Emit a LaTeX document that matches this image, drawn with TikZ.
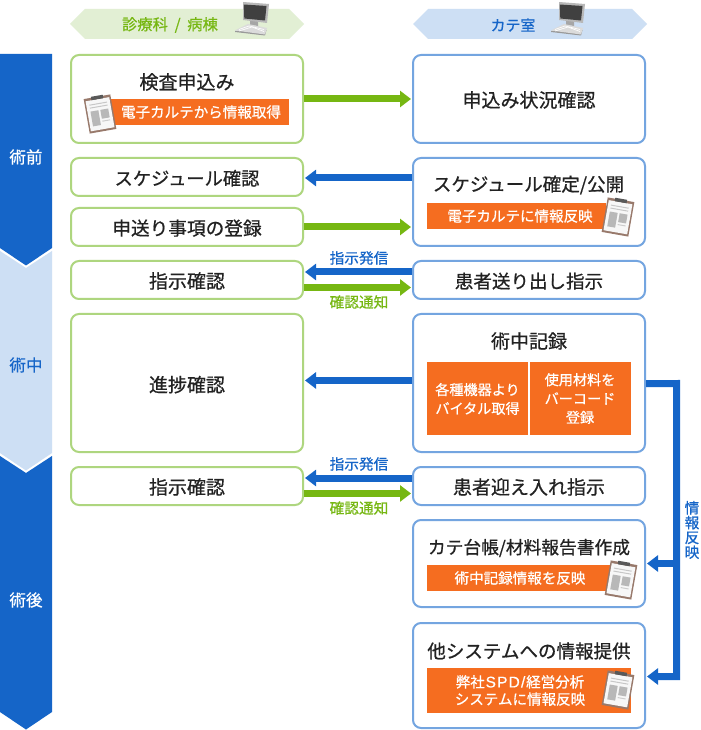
\documentclass[tikz,border=0pt]{standalone}
\usepackage{fontspec}
\usetikzlibrary{arrows.meta,calc}
\setmainfont{Noto Sans CJK JP}
\newfontfamily\jpm{Noto Sans CJK JP}[FakeBold=0.7]
\newfontfamily\lat{Liberation Sans}[FakeBold=0.5]
\definecolor{dblue}{HTML}{1565C8}
\definecolor{lblue}{HTML}{CDDFF4}
\definecolor{dgreen}{HTML}{76B712}
\definecolor{lgreen}{HTML}{E2EFD4}
\definecolor{gborder}{HTML}{AED67F}
\definecolor{bborder}{HTML}{74A5E0}
\definecolor{orangebar}{HTML}{F56D20}
\definecolor{inktext}{HTML}{222222}
\definecolor{clipbrown}{HTML}{98796B}
\newcommand{\fsz}[1]{\fontsize{#1}{#1}\selectfont}
\newcommand{\clipb}[3]{%
  \begin{scope}[shift={(#1,#2)},rotate=#3]
    \fill[clipbrown] (-13.5,-17.5) rectangle (13.5,17.5);
    \fill[black!3] (-12,-15) rectangle (12,15.5);
    \fill[black!65] (-6,-18.5) rectangle (6,-15);
    \fill[black!22] (-9,-11) rectangle (9,-10);
    \fill[black!22] (-9,-8) rectangle (9,-7);
    \fill[black!28] (-9,-4) rectangle (-1,11);
    \fill[black!28] (1,-4) rectangle (9,5);
    \fill[black!20] (1,7) rectangle (9,8);
  \end{scope}}
\newcommand{\pcicon}[1]{%
  \begin{scope}[xshift=#1*0.75pt]
    \fill[black!35] (250,20) -- (258,21) -- (258,26) -- (250,25) -- cycle;
    \fill[black!28] (243,2) -- (269,4) -- (267,23) -- (243,20) -- cycle;
    \fill[black!75] (243.8,4.5) -- (266.5,6) -- (265,20.5) -- (244.3,18.5) -- cycle;
    \fill[black!40] (235,31) -- (235,32) -- (265,35.5) -- (266.5,30) -- cycle;
    \fill[black!14] (235,30.5) -- (248,24) -- (267,28) -- (265,34.5) -- cycle;
    \draw[white,line width=.5pt] (239,29.5) -- (249,26) -- (264,29.5);
    \draw[white,line width=.5pt] (239,31) -- (252,27) -- (264,31.5);
  \end{scope}}
\tikzset{
  x=0.75pt,y=-0.75pt,
  basebox/.style={draw,fill=white,line width=1.5pt,rounded corners=6pt,minimum width=174pt,inner sep=0pt,outer sep=0pt,text=inktext,font=\jpm\fsz{14.25pt},text height=14pt,text depth=1.7pt},
  lbox/.style={basebox,draw=gborder},
  rbox/.style={basebox,draw=bborder},
  h38/.style={minimum height=28.5pt},
  title/.style={inner sep=0pt,text=inktext,font=\jpm\fsz{14.25pt}},
  bartext/.style={inner sep=0pt,text=white,align=center,font=\jpm\fsz{10.9pt}},
  phase/.style={inner sep=0pt,font=\jpm\fsz{12.4pt}},
  arr/.style={line width=5.25pt,-{Triangle[length=8.25pt,width=12pt]},shorten <=.75pt,shorten >=1.5pt},
  garrow/.style={arr,draw=dgreen},
  barrow/.style={arr,draw=dblue},
  small/.style={inner sep=0pt,font=\jpm\fsz{11pt}},
}
\begin{document}
\begin{tikzpicture}
\path[use as bounding box,fill=white] (0,0) rectangle (700,730);
% phases
\fill[dblue] (0,54) -- (52,54) -- (52,248) -- (26,265.5) -- (0,248) -- cycle;
\fill[lblue] (0,251) -- (26,268) -- (52,251) -- (52,453) -- (26,470.5) -- (0,453) -- cycle;
\fill[dblue] (0,456) -- (26,473) -- (52,456) -- (52,712) -- (26,729.5) -- (0,712) -- cycle;
\node[phase,text=white] (pre) at (26,157) {術前};
\node[phase,text=dblue] (mid) at (26,365) {術中};
\node[phase,text=white] (post) at (26,600) {術後};
% headers
\fill[lgreen] (70,24) -- (85,9) -- (289,9) -- (304,24) -- (289,39) -- (85,39) -- cycle;
\fill[lblue] (413,24) -- (428,9) -- (632,9) -- (647,24) -- (632,39) -- (428,39) -- cycle;
\node[inner sep=0pt,text=dgreen,font=\jpm\fsz{11.5pt}] (hl) at (170,25) {診療科\hspace{5pt}/\hspace{5pt}病棟};
\node[inner sep=0pt,text=dblue,font=\jpm\fsz{11.2pt}] (hr) at (513,25) {カテ室};
\pcicon{0}
\pcicon{316}
% left boxes
\node[lbox,minimum height=66pt] (l1) at (187,99) {};
\node[lbox,h38,font=\jpm\fsz{13.7pt}] (l2) at (187,177) {スケジュール確認};
\node[lbox,h38,font=\jpm\fsz{14pt}] (l3) at (187,227) {申送り事項の登録};
\node[lbox,h38] (l4) at (187,280) {指示確認};
\node[lbox,minimum height=103.5pt,text height=15pt] (l5) at (187,383) {進捗確認};
\node[lbox,h38] (l6) at (187,486) {指示確認};
% right boxes
\node[rbox,minimum height=66pt] (r1) at (529,99) {申込み状況確認};
\node[rbox,minimum height=66pt] (r2) at (529,202) {};
\node[rbox,h38,font=\jpm\fsz{13.9pt}] (r3) at (529,280) {患者送り出し指示};
\node[rbox,minimum height=103.5pt] (r4) at (529,383) {};
\node[rbox,h38] (r5) at (529,486) {患者迎え入れ指示};
\node[rbox,minimum height=65.25pt] (r6) at (529,563.5) {};
\node[rbox,minimum height=78.75pt] (r7) at (529,675.5) {};
% titles
\node[title] (t1) at (187,82) {検査申込み};
\node[title,font=\jpm\fsz{13.9pt}] (t2) at (528.5,185) {スケジュール確定/公開};
\node[title] (t4) at (529,341) {術中記録};
\node[title,font=\jpm\fsz{13.3pt}] (t6) at (529,548) {カテ台帳/材料報告書作成};
\node[title,font=\jpm\fsz{13.9pt}] (t7) at (529,651) {他システムへの情報提供};
% orange bars
\fill[orangebar] (110,99) rectangle (289,125);
\node[bartext] (b1) at (201,112) {電子カルテから情報取得};
\clipb{100}{114}{10}
\fill[orangebar] (427,203) rectangle (606,229);
\node[bartext] (b2) at (520,216) {電子カルテに情報反映};
\clipb{618}{217}{-10}
\fill[orangebar] (427,362) rectangle (528,435);
\fill[orangebar] (530,362) rectangle (631,435);
\node[bartext,font=\jpm\fsz{10.6pt}] (b3) at (477.5,399) {各種機器より\\[3.5pt]バイタル取得};
\node[bartext,font=\jpm\fsz{10.6pt}] (b4) at (580,398.5) {使用材料を\\[3.5pt]バーコード\\[3.5pt]登録};
\fill[orangebar] (427,565) rectangle (610,591);
\node[bartext] (b5) at (520,578) {術中記録情報を反映};
\clipb{621}{580}{-10}
\fill[orangebar] (427,668) rectangle (631,713);
\node[bartext,font=\jpm\fsz{10.9pt}] (b6) at (520,690.5) {弊社{\lat\fsz{11.6pt}\hspace{.6pt}S\hspace{.9pt}P\hspace{.9pt}D\hspace{.9pt}/\hspace{.6pt}}経営分析\\[2pt]システムに情報反映};
\clipb{618}{690}{-10}
% connectors
\draw[garrow] (l1.east) -- (r1.west);
\draw[barrow] ([yshift=-.75pt]l2.east -| r2.west) -- ([yshift=-.75pt]l2.east);
\draw[garrow] (l3.east) -- (l3.east -| r2.west);
\draw[barrow] ([yshift=6pt]r3.west) -- ([yshift=6pt]l4.east);
\draw[garrow] ([yshift=-5.6pt]l4.east) -- ([yshift=-5.6pt]r3.west);
\draw[barrow] ([yshift=1.9pt]r4.west) -- ([yshift=1.9pt]l5.east);
\draw[barrow] ([yshift=6pt]r5.west) -- ([yshift=6pt]l6.east);
\draw[garrow] ([yshift=-5.6pt]l6.east) -- ([yshift=-5.6pt]r5.west);
\coordinate (bus) at (676.5,383.5);
\coordinate (r7in) at ([yshift=-.75pt]r7.east);
\draw[barrow] ([yshift=-.4pt]r4.east) -- (bus) -- (bus |- r7in) -- (r7in);
\draw[barrow] (bus |- r6.east) -- (r6.east);
% labels
\node[small,text=dblue] (s1) at (359,258) {指示発信};
\node[small,text=dgreen] (s2) at (359,302) {確認通知};
\node[small,text=dblue] (s3) at (359,464) {指示発信};
\node[small,text=dgreen] (s4) at (359,508) {確認通知};
\node[small,text=dblue,align=center] (s5) at (692,530) {情\\[0.1pt]報\\[0.1pt]反\\[0.1pt]映};
\end{tikzpicture}
\end{document}
